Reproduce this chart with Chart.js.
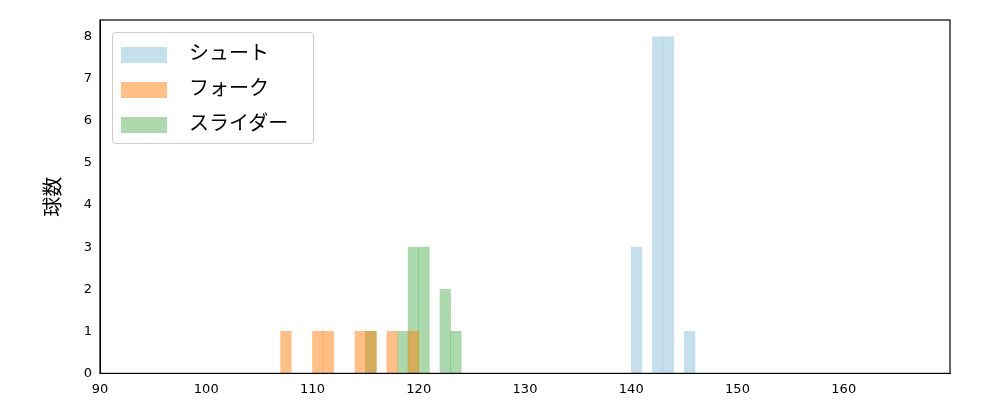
<!DOCTYPE html>
<html>
<head>
<meta charset="utf-8">
<script src="https://cdn.jsdelivr.net/npm/chart.js@4"></script>
<style>
body { margin: 0; background: #fff; }
#wrap { width: 1000px; height: 400px; position: relative; }
#legend {
    position: absolute; left: 112px; top: 32px; width: 202px; height: 112px;
    border: 1px solid #ccc; border-radius: 4px; background: rgba(255,255,255,0.8);
    font-family: 'Noto Sans CJK JP', sans-serif; font-size: 20px; box-sizing: border-box;
}
#legend div { position: absolute; left: 8px; height: 20px; line-height: 20px; }
#legend span.sw { display: inline-block; width: 46px; height: 16px; vertical-align: middle; margin-right: 22px; }
</style>
</head>
<body>
<div id="wrap"><canvas id="c"></canvas><div id="legend"></div></div>
<script>
// histogram bins: left edge of each 1 km/h bin, count
const shootBins = [140, 142, 143, 145];
const shootCounts = [3, 8, 8, 1];
const forkBins = [107, 110, 111, 114, 115, 117, 119];
const forkCounts = [1, 1, 1, 1, 1, 1, 1];
const sliderBins = [115, 118, 119, 120, 122, 123];
const sliderCounts = [1, 1, 3, 3, 2, 1];
const xTicks = [90, 100, 110, 120, 130, 140, 150, 160];
const yTicks = [0, 1, 2, 3, 4, 5, 6, 7, 8];

function toPoints(bins, counts) {
    return bins.map((b, i) => ({ x: b + 0.5, y: counts[i] }));
}

const frame = {
    id: 'frame',
    afterDraw(chart) {
        const a = chart.chartArea, ctx = chart.ctx;
        ctx.save();
        ctx.strokeStyle = '#000';
        ctx.lineWidth = 1.2;
        ctx.strokeRect(a.left, a.top, a.right - a.left, a.bottom - a.top);
        ctx.restore();
    }
};

const font = "'DejaVu Sans', sans-serif";
const chart = new Chart(document.getElementById('c'), {
    type: 'bar',
    data: {
        datasets: [
            { label: 'シュート', data: toPoints(shootBins, shootCounts), backgroundColor: 'rgba(158,202,225,0.6)' },
            { label: 'フォーク', data: toPoints(forkBins, forkCounts), backgroundColor: 'rgba(255,127,14,0.5)' },
            { label: 'スライダー', data: toPoints(sliderBins, sliderCounts), backgroundColor: 'rgba(44,160,44,0.4)' }
        ]
    },
    plugins: [frame],
    options: {
        responsive: true,
        maintainAspectRatio: false,
        animation: false,
        grouped: false,
        barPercentage: 1,
        categoryPercentage: 1,
        layout: { padding: { top: 20, right: 50, bottom: 0, left: 40 } },
        scales: {
            x: {
                type: 'linear', min: 90, max: 170, offset: false,
                grid: { display: false, tickLength: 5 },
                border: { color: '#000' },
                afterBuildTicks: s => { s.ticks = xTicks.map(v => ({ value: v })); },
                ticks: { color: '#000', font: { family: font, size: 13 }, maxRotation: 0 }
            },
            y: {
                min: 0, max: 8.4,
                grid: { display: false, tickLength: 5 },
                border: { color: '#000' },
                afterBuildTicks: s => { s.ticks = yTicks.map(v => ({ value: v })); },
                afterFit: s => { s.width = 60; },
                ticks: { color: '#000', font: { family: font, size: 13 } },
                title: { display: true, text: '球数', color: '#000', font: { family: "'Noto Sans CJK JP', sans-serif", size: 20 }, padding: 0 }
            }
        },
        plugins: {
            tooltip: { enabled: false },
            legend: { display: false }
        }
    }
});

const legend = document.getElementById('legend');
chart.data.datasets.forEach((ds, i) => {
    const row = document.createElement('div');
    row.style.top = (9 + i * 35) + 'px';
    row.innerHTML = '<span class="sw" style="background:' + ds.backgroundColor + '"></span>' + ds.label;
    legend.appendChild(row);
});
</script>
</body>
</html>
